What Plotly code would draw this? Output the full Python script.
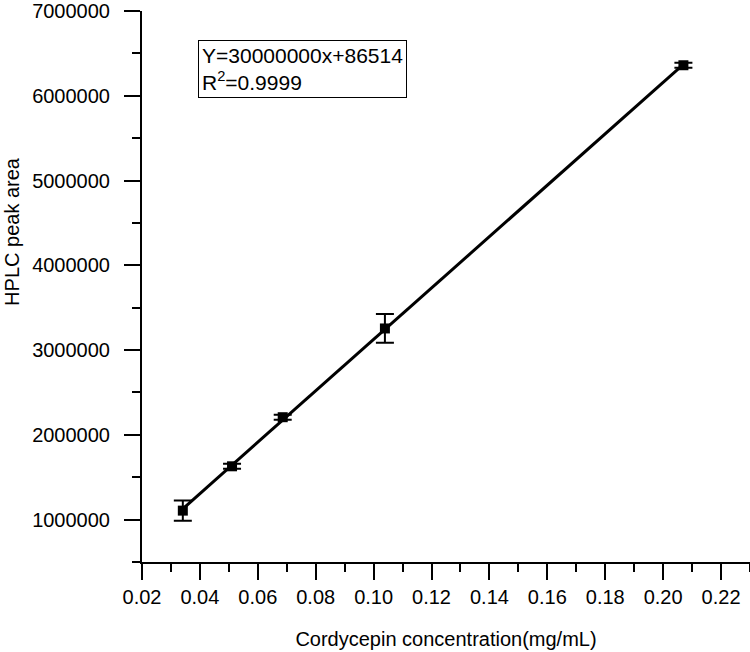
import numpy as np
import plotly.graph_objects as go

# cordycepin standard curve
conc = [0.0341, 0.0511, 0.0686, 0.1039, 0.207]
peak_area = [1106000, 1629000, 2208000, 3255000, 6360000]
peak_err = [120000, 30000, 30000, 170000, 30000]

equation_text = "Y=30000000x+86514<br>R<sup>2</sup>=0.9999"

FONT = "Liberation Sans, Arial, sans-serif"

slope, intercept = np.polyfit(conc, peak_area, 1)
fit_x = [min(conc), max(conc)]
fit_y = [slope * v + intercept for v in fit_x]

fig = go.Figure()
fig.add_trace(go.Scatter(
    x=fit_x, y=fit_y,
    mode='lines',
    line=dict(color='black', width=3),
    hoverinfo='skip'
))
fig.add_trace(go.Scatter(
    x=conc, y=peak_area,
    mode='markers',
    marker=dict(symbol='square', size=10, color='black'),
    error_y=dict(type='data', array=peak_err, color='black', thickness=2, width=9)
))

fig.add_annotation(
    x=0.092, y=0.947, xref='paper', yref='paper',
    xanchor='left', yanchor='top',
    text=equation_text, showarrow=False, align='left',
    font=dict(family=FONT, size=21, color='black'),
    bordercolor='black', borderwidth=1, borderpad=3,
    bgcolor='white'
)
fig.add_annotation(
    x=-0.213, y=0.6, xref='paper', yref='paper',
    xanchor='center', yanchor='middle',
    text="HPLC peak area", textangle=-90, showarrow=False,
    font=dict(family=FONT, size=20, color='black')
)

axis_common = dict(
    showgrid=False, zeroline=False, automargin=False,
    showline=True, linecolor='black', linewidth=2,
    ticks='outside', ticklen=16, tickwidth=2, tickcolor='black',
    tickfont=dict(family=FONT, size=20, color='black'),
    ticklabeloverflow='allow',
)

fig.update_xaxes(
    range=[0.02, 0.23], tick0=0.02, dtick=0.02, tickformat='.2f',
    minor=dict(dtick=0.01, ticks='outside', ticklen=8, tickwidth=2, tickcolor='black'),
    title=dict(text='Cordycepin concentration(mg/mL)',
               font=dict(family=FONT, size=20, color='black'), standoff=25),
    **axis_common
)
fig.update_yaxes(
    range=[500000, 7000000], tick0=0, dtick=1000000, tickformat='d',
    minor=dict(dtick=500000, ticks='outside', ticklen=8, tickwidth=2, tickcolor='black'),
    ticklabelstandoff=10,
    **axis_common
)

fig.update_layout(
    width=750, height=652,
    margin=dict(l=142, r=0, t=11, b=90),
    plot_bgcolor='white', paper_bgcolor='white',
    showlegend=False,
    font=dict(family=FONT, size=20, color='black')
)

# drop the default 8px page margin so the figure fills the window
fig.write_html("out.html", config={'displayModeBar': False},
               post_script="document.body.style.margin='0';")
